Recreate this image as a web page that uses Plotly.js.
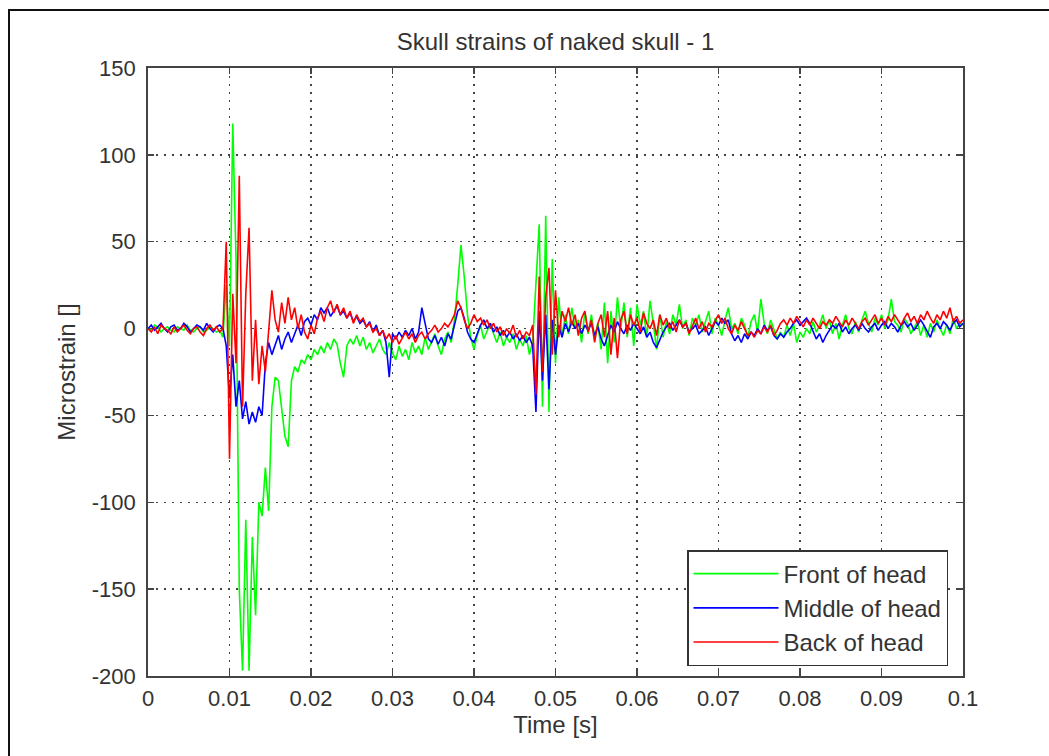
<!DOCTYPE html>
<html>
<head>
<meta charset="utf-8">
<script src="https://cdn.plot.ly/plotly-3.0.1.min.js"></script>
<style>
  html, body { margin: 0; padding: 0; background: #fff; overflow: hidden; }
  #wrap { position: relative; width: 1049px; height: 756px; }
  #chart { position: absolute; left: 0; top: 0; width: 1049px; height: 756px; }
  #frame { position: absolute; left: 8px; top: 9px; width: 1100px; height: 800px;
           border-top: 2px solid #111; border-left: 2px solid #111; pointer-events: none; }
</style>
</head>
<body>
<div id="wrap">
  <div id="chart"></div>
  <div id="frame"></div>
</div>
<script>
// Sampling step of the recording (s) and number of samples
const timeStep = 0.0004;
const sampleCount = 251;

// Front of head (green)
const frontOfHead = [
  0,-1,2,1,-2,0,1,-1,-2,1,
  0,-1,2,-1,-2,0,1,-2,-1,1,
  0,-2,-1,-5,25,-10,118,40,-150,-197,
  -110,-197,-120,-165,-100,-108,-80,-105,-45,-28,
  -30,-45,-62,-68,-30,-22,-25,-18,-20,-15,
  -18,-12,-15,-10,-14,-8,-12,-6,-9,-20,
  -28,-10,-6,-9,-4,-10,-5,-12,-8,-14,
  -10,-6,-12,-15,-8,-14,-18,-10,-16,-12,
  -18,-8,-14,-10,-15,-5,-12,-8,-3,-10,
  -15,-6,-2,-8,5,25,48,30,8,-5,
  -12,-4,2,-6,-2,3,-3,-8,-2,-10,
  -5,-8,-3,-12,-6,-10,-4,-15,-8,30,
  60,-45,65,-48,40,-20,18,-5,8,-3,
  12,0,5,-8,10,-3,8,-5,3,-12,
  15,-20,10,-8,18,0,15,-5,12,-10,
  14,2,10,-5,16,3,-12,8,-5,4,
  -3,8,2,14,0,5,-4,6,2,8,
  -2,4,10,-3,6,2,-4,5,12,0,
  3,-3,6,2,-5,4,8,-2,17,3,
  -3,5,0,-6,-2,-5,2,-4,3,-8,
  -2,-5,0,-3,4,-2,2,8,0,5,
  -3,3,-6,2,8,0,-3,4,-2,5,
  10,3,-2,6,2,8,0,5,17,4,
  2,-2,6,3,-3,1,4,-4,2,-5,
  3,-2,5,0,-4,2,-3,6,0,3,
  2
];

// Middle of head (blue)
const middleOfHead = [
  0,2,-1,1,3,0,-2,1,2,-1,
  0,3,1,-2,0,2,1,-1,3,0,
  -2,1,2,0,-10,-40,-15,-45,-30,-52,
  -42,-55,-48,-54,-45,-50,-20,-8,-15,-10,
  -4,-12,-6,-2,-8,-3,2,-4,4,6,
  2,8,5,12,9,12,7,10,13,8,
  10,6,9,4,7,3,5,1,4,-2,
  2,-4,-1,-8,-28,-3,-6,-2,-5,-1,
  -4,0,-6,-2,12,3,-6,-8,-4,-9,
  -5,-10,-3,-6,2,10,12,6,-2,-6,
  -8,-3,2,5,0,3,-2,1,-4,-1,
  -5,-2,-6,-3,-7,-4,-8,-5,-10,-48,
  10,-30,8,-35,5,-15,2,-5,3,-2,
  4,0,3,-3,2,-1,3,-4,1,-6,
  -10,-4,2,-2,4,0,-3,2,-1,3,
  0,-3,1,-5,-2,-8,-11,-6,-2,1,
  3,-1,2,5,1,3,-2,0,2,-3,
  -1,1,-4,0,4,2,6,3,5,-3,
  -7,-4,-8,-3,-6,-2,-4,0,-3,2,
  -1,1,-4,-6,-3,-5,-2,0,3,5,
  2,4,6,3,-2,-6,-3,-8,-4,-1,
  2,0,3,-2,1,-3,0,2,-1,3,
  0,-2,1,3,-1,2,4,0,3,1,
  -2,2,4,1,3,-1,2,5,2,-2,
  -5,1,3,0,4,2,-1,3,5,1,
  3
];

// Back of head (red)
const backOfHead = [
  0,-2,1,-3,2,0,-1,-3,1,-2,
  0,2,-1,-3,0,1,-2,-4,0,2,
  -1,1,-2,0,50,-75,20,-20,88,-45,
  20,58,-30,5,-32,-10,-25,0,22,5,
  -2,15,3,18,5,12,0,8,-2,-6,
  2,-3,6,10,4,12,16,9,14,8,
  12,6,10,3,8,4,6,1,3,-2,
  0,-4,-1,-6,-3,-8,-4,-9,-5,-2,
  -6,-3,-8,-4,-2,-6,-3,-1,2,-2,
  0,3,1,4,8,16,12,5,0,3,
  8,4,6,2,5,0,3,-2,1,-4,
  0,-3,2,-5,-1,-6,-2,-4,2,-38,
  30,-25,18,35,-15,22,-5,10,4,12,
  2,8,-4,6,10,-2,5,-8,3,8,
  -5,10,-15,6,-17,5,10,-3,8,2,
  6,-2,9,3,0,5,-4,8,2,6,
  0,4,-2,5,1,3,-3,2,6,0,
  4,-2,3,1,5,8,3,6,0,-3,
  2,-1,4,0,-4,-2,-5,-1,-3,1,
  -2,2,-4,-1,3,5,2,6,3,7,
  4,1,5,2,6,3,0,4,2,5,
  3,7,4,1,5,2,6,3,0,4,
  6,2,5,8,3,6,2,7,4,8,
  5,2,6,9,4,7,3,8,5,10,
  6,3,8,5,10,6,12,4,7,3,
  5
];

const seriesNames = ['Front of head', 'Middle of head', 'Back of head'];
const seriesColors = ['#00ff00', '#0000ff', '#ff0000'];
const xTickVals = [0, 0.01, 0.02, 0.03, 0.04, 0.05, 0.06, 0.07, 0.08, 0.09, 0.1];
const xTickText = ['0', '0.01', '0.02', '0.03', '0.04', '0.05', '0.06', '0.07', '0.08', '0.09', '0.1'];
const yTickVals = [-200, -150, -100, -50, 0, 50, 100, 150];
const yTickText = ['-200', '-150', '-100', '-50', '0', '50', '100', '150'];

const time = [];
for (let i = 0; i < sampleCount; i++) time.push(+(i * timeStep).toFixed(6));

const seriesValues = [frontOfHead, middleOfHead, backOfHead];
const traces = seriesValues.map((vals, k) => ({
  type: 'scatter',
  mode: 'lines',
  x: time,
  y: vals,
  name: seriesNames[k],
  line: { color: seriesColors[k], width: 1.6 }
}));

const fontFam = 'Liberation Sans, Arial, sans-serif';
const axisCommon = {
  showline: true,
  mirror: 'ticks',
  linecolor: '#444',
  linewidth: 1.8,
  ticks: 'inside',
  ticklen: 6,
  tickcolor: '#444',
  tickwidth: 1.5,
  showgrid: true,
  gridcolor: '#444',
  gridwidth: 1.5,
  griddash: '1.5px,6.5px',
  zeroline: false,
  tickfont: { family: fontFam, size: 22, color: '#333' }
};

const layout = {
  width: 1049,
  height: 756,
  margin: { l: 148, r: 86, t: 68, b: 80 },
  paper_bgcolor: 'rgba(0,0,0,0)',
  plot_bgcolor: '#fff',
  showlegend: true,
  title: {
    text: 'Skull strains of naked skull - 1',
    font: { family: fontFam, size: 24, color: '#333' },
    x: 0.5 * (148 + 963) / 1049,
    xanchor: 'center',
    y: 1 - 42 / 756,
    yanchor: 'middle'
  },
  xaxis: Object.assign({}, axisCommon, {
    range: [0, 0.1],
    tickvals: xTickVals,
    ticktext: xTickText,
    ticklabelstandoff: 2,
    title: { text: 'Time [s]', font: { family: fontFam, size: 24, color: '#333' }, standoff: 6 }
  }),
  yaxis: Object.assign({}, axisCommon, {
    range: [-200, 150],
    tickvals: yTickVals,
    ticktext: yTickText,
    ticklabelstandoff: 6,
    title: { text: 'Microstrain []', font: { family: fontFam, size: 24, color: '#333' }, standoff: 9 }
  }),
  legend: {
    x: 0.9816,
    y: 0.0164,
    xanchor: 'right',
    yanchor: 'bottom',
    bgcolor: '#fff',
    bordercolor: '#333',
    borderwidth: 1.5,
    font: { family: fontFam, size: 24, color: '#333' },
    tracegroupgap: 0,
    itemwidth: 85
  }
};

Plotly.newPlot('chart', traces, layout, { displayModeBar: false, staticPlot: true });
</script>
</body>
</html>
